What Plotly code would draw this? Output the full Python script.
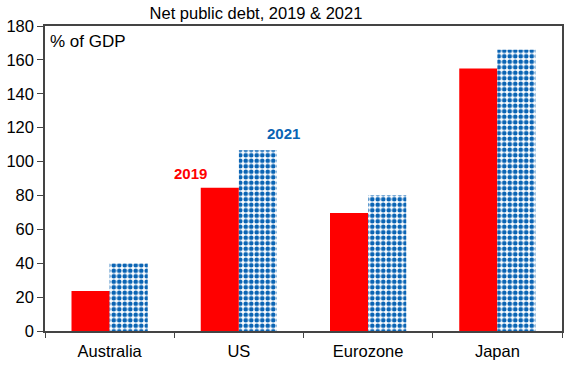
import plotly.graph_objects as go

categories = ["Australia", "US", "Eurozone", "Japan"]
debt_2019 = [23.6, 84.6, 69.7, 154.9]
debt_2021 = [39.8, 106.7, 80.1, 166.0]
y_ticks = [0, 20, 40, 60, 80, 100, 120, 140, 160, 180]

RED = "#FF0000"
BLUE = "#0A64B4"
FONT = "Liberation Sans, Arial, sans-serif"

fig = go.Figure()
fig.add_trace(go.Bar(
    x=categories, y=debt_2019, name="2019",
    marker=dict(color=RED, line=dict(width=0)),
))
fig.add_trace(go.Bar(
    x=categories, y=debt_2021, name="2021",
    marker=dict(color="white", line=dict(width=0),
                pattern=dict(shape=".", fgcolor=BLUE, bgcolor="white", fgopacity=1,
                             size=5.5, solidity=0.55, fillmode="overlay")),
))

fig.update_layout(
    width=570, height=368,
    margin=dict(l=44, r=6, t=26, b=37),
    paper_bgcolor="white", plot_bgcolor="white",
    barmode="group", bargap=0.41, bargroupgap=0,
    showlegend=False,
    font=dict(family=FONT, size=16, color="black"),
    title=dict(text="Net public debt, 2019 & 2021", x=256 / 570, xanchor="center",
               y=1 - 13 / 368, yanchor="middle", font=dict(size=16.5, color="black")),
)
fig.update_xaxes(
    showline=True, linecolor="#444444", linewidth=1.5, mirror=True,
    ticks="outside", tickson="boundaries", ticklen=5, tickcolor="#444444",
    showgrid=False, tickfont=dict(size=16.5), ticklabelstandoff=4,
)
fig.update_yaxes(
    range=[0, 180], tickvals=y_ticks, showline=True, linecolor="#444444",
    linewidth=1.5, mirror=True, ticks="outside", ticklen=6, tickcolor="#444444",
    showgrid=False, zeroline=False, tickfont=dict(size=16.5),
)

fig.add_annotation(x="US", y=93, xref="x", yref="y", text="<b>2019</b>",
                   showarrow=False, xshift=-48, font=dict(size=15, color=RED))
fig.add_annotation(x="US", y=116.7, xref="x", yref="y", text="<b>2021</b>",
                   showarrow=False, xshift=45, font=dict(size=15, color=BLUE))
fig.add_annotation(x=0.006, y=(331 - 41) / 305, xref="paper", yref="paper",
                   text="% of GDP", showarrow=False, xanchor="left", yanchor="middle",
                   font=dict(size=17, color="black"))

fig.write_html("out.html", config={"displayModeBar": False},
               post_script="document.body.style.margin='0';")
